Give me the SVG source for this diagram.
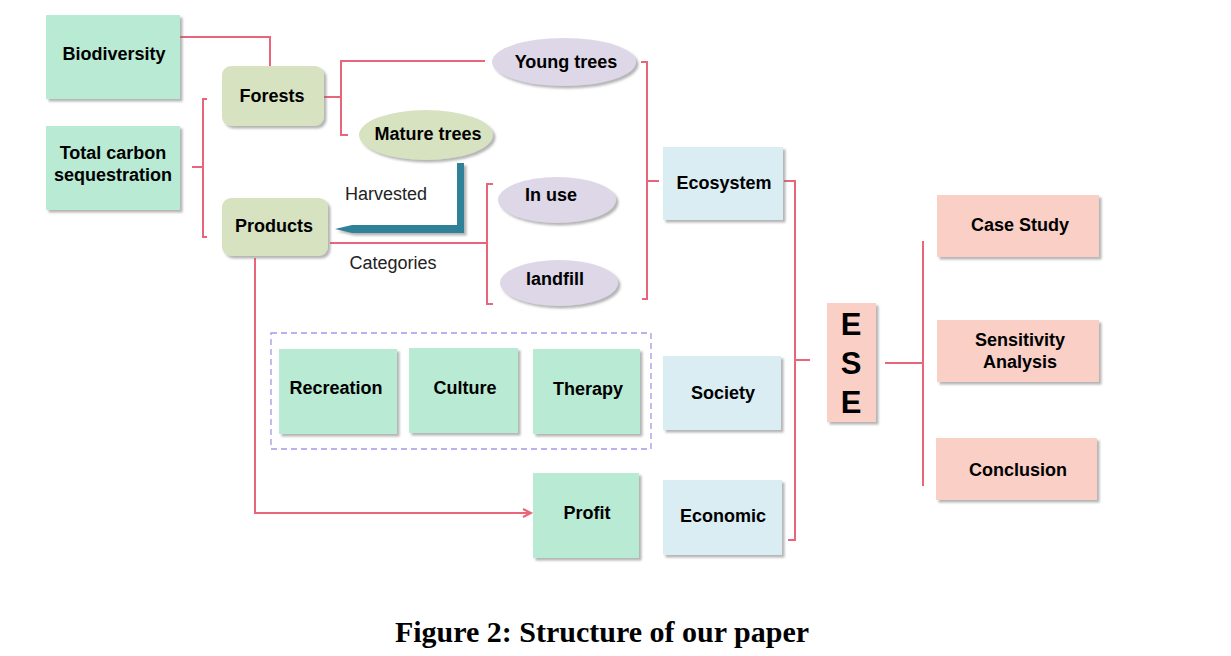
<svg xmlns="http://www.w3.org/2000/svg" width="1231" height="656" viewBox="0 0 1231 656">
<defs>
<filter id="sh" x="-10%" y="-10%" width="130%" height="130%">
<feDropShadow dx="2.5" dy="2.5" stdDeviation="1.2" flood-color="#777" flood-opacity="0.55"/>
</filter>
<marker id="arr" markerWidth="12" markerHeight="12" refX="9" refY="5" orient="auto" markerUnits="userSpaceOnUse">
<path d="M1,1 L9,5 L1,9" fill="none" stroke="#e8657a" stroke-width="2"/>
</marker>
</defs>
<style>
.mint{fill:#b9ead4;filter:url(#sh)}
.olive{fill:#d7e2c0;filter:url(#sh)}
.lav{fill:#ddd7e7;filter:url(#sh)}
.blue{fill:#daedf2;filter:url(#sh)}
.pink{fill:#f9cfc6;filter:url(#sh)}
.t{font-family:"Liberation Sans",Arial,sans-serif;font-weight:bold;font-size:18px;fill:#000;text-anchor:middle}
.n{font-family:"Liberation Sans",Arial,sans-serif;font-size:18px;fill:#222;text-anchor:middle}
.c{fill:none;stroke:#e8657a;stroke-width:2}
</style>
<rect width="1231" height="656" fill="#fff"/>
<g id="connectors">
<path class="c" d="M180,37 H270 V66"/>
<path class="c" d="M207,99 H203 V237 H207 M192,167 H203"/>
<path class="c" d="M324,97 H341 M485,61 H341 V135 H348"/>
<path class="c" d="M330,243 H487 M493,184 H487 V304 H493"/>
<path class="c" d="M641,62 H647 V299 H642 M647,181 H659"/>
<path class="c" d="M784,181 H795 V540 H788 M795,360 H810"/>
<path class="c" d="M885,363 H923 M923,241 V486"/>
<path class="c" d="M255,258 V513 H531" marker-end="url(#arr)"/>
<polygon points="457,163 464,163 464,233 352,233 335,229 352,225 457,225" fill="#2e8197" filter="url(#sh)"/>
<text class="n" x="386" y="200">Harvested</text>
<text class="n" x="393" y="269">Categories</text>
</g>
<g id="biodiversity"><rect class="mint" x="46" y="15" width="134" height="84"/><text class="t" x="114" y="60">Biodiversity</text></g>
<g id="carbon"><rect class="mint" x="46" y="126" width="134" height="84"/><text class="t" x="113" y="159">Total carbon</text><text class="t" x="113" y="181">sequestration</text></g>
<g id="forests"><rect class="olive" x="222" y="66" width="102" height="60" rx="9"/><text class="t" x="272" y="102">Forests</text></g>
<g id="products"><rect class="olive" x="222" y="198" width="106" height="58" rx="9"/><text class="t" x="274" y="232">Products</text></g>
<g id="young"><ellipse class="lav" cx="564" cy="62" rx="72" ry="24"/><text class="t" x="566" y="68">Young trees</text></g>
<g id="mature"><ellipse class="olive" cx="426" cy="135" rx="67" ry="25"/><text class="t" x="428" y="140">Mature trees</text></g>
<g id="inuse"><ellipse class="lav" cx="557" cy="200" rx="59" ry="23"/><text class="t" x="551" y="201">In use</text></g>
<g id="landfill"><ellipse class="lav" cx="559" cy="283" rx="59" ry="23"/><text class="t" x="555" y="285">landfill</text></g>
<g id="group"><rect x="271" y="333" width="380" height="116" fill="none" stroke="#a996e3" stroke-width="1.3" stroke-dasharray="6,4"/></g>
<g id="recreation"><rect class="mint" x="279" y="349" width="118" height="85"/><text class="t" x="336" y="394">Recreation</text></g>
<g id="culture"><rect class="mint" x="409" y="348" width="109" height="85"/><text class="t" x="465" y="394">Culture</text></g>
<g id="therapy"><rect class="mint" x="533" y="349" width="107" height="85"/><text class="t" x="588" y="395">Therapy</text></g>
<g id="profit"><rect class="mint" x="533" y="473" width="106" height="85"/><text class="t" x="587" y="519">Profit</text></g>
<g id="ecosystem"><rect class="blue" x="663" y="147" width="120" height="73"/><text class="t" x="724" y="189">Ecosystem</text></g>
<g id="society"><rect class="blue" x="663" y="356" width="118" height="74"/><text class="t" x="723" y="399">Society</text></g>
<g id="economic"><rect class="blue" x="663" y="480" width="119" height="75"/><text class="t" x="723" y="522">Economic</text></g>
<g id="ese"><rect class="pink" x="827" y="303" width="49" height="119"/>
<text class="t" x="851" y="335" style="font-size:31px">E</text>
<text class="t" x="851" y="374" style="font-size:31px">S</text>
<text class="t" x="851" y="413" style="font-size:31px">E</text></g>
<g id="casestudy"><rect class="pink" x="937" y="195" width="162" height="62"/><text class="t" x="1020" y="231">Case Study</text></g>
<g id="sensitivity"><rect class="pink" x="937" y="320" width="162" height="62"/><text class="t" x="1020" y="346">Sensitivity</text><text class="t" x="1020" y="368">Analysis</text></g>
<g id="conclusion"><rect class="pink" x="936" y="438" width="161" height="62"/><text class="t" x="1018" y="476">Conclusion</text></g>
<text x="602" y="642" style="font-family:'Liberation Serif','Times New Roman',serif;font-weight:bold;font-size:30px;fill:#000;text-anchor:middle">Figure 2: Structure of our paper</text>
</svg>
